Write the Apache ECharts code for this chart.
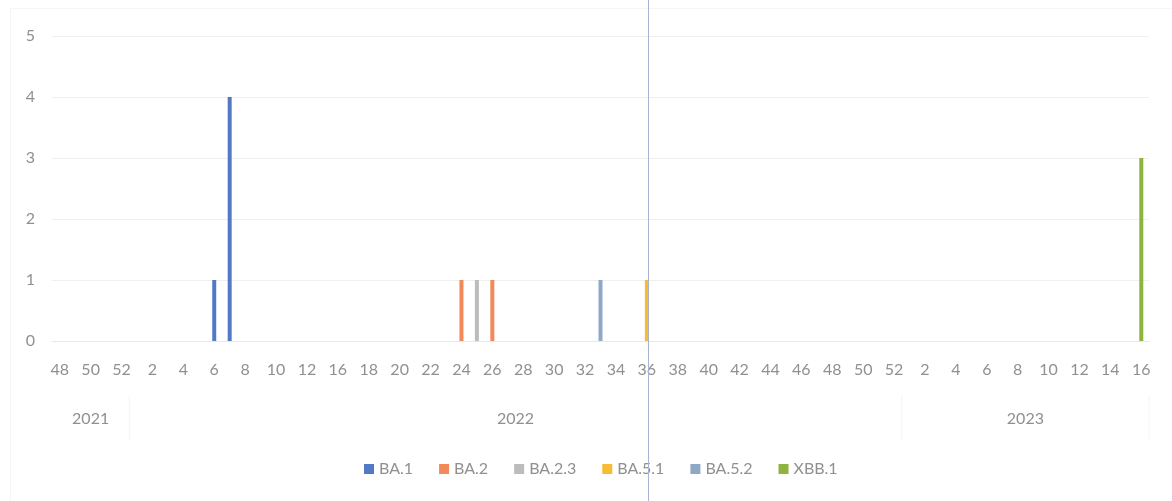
<!DOCTYPE html>
<html>
<head>
<meta charset="utf-8">
<script src="https://cdn.jsdelivr.net/npm/echarts@6/dist/echarts.min.js"></script>
<style>
  html, body { margin: 0; padding: 0; background: #ffffff; }
  #chart { width: 1172px; height: 501px; }
</style>
</head>
<body>
<div id="chart"></div>
<script>
// Calendar weeks shown on the axis, grouped by year (weeks 13-14 of 2022 are not reported)
const weeks2021 = [48, 49, 50, 51, 52];
const weeks2022 = [1, 2, 3, 4, 5, 6, 7, 8, 9, 10, 11, 12,
  15, 16, 17, 18, 19, 20, 21, 22, 23, 24, 25, 26, 27, 28, 29, 30, 31, 32, 33,
  34, 35, 36, 37, 38, 39, 40, 41, 42, 43, 44, 45, 46, 47, 48, 49, 50, 51, 52];
const weeks2023 = [1, 2, 3, 4, 5, 6, 7, 8, 9, 10, 11, 12, 13, 14, 15, 16];
const years = ['2021', '2022', '2023'];

// Number of sequenced samples per lineage: [year, week, count]
const ba1 = [['2022', 6, 1], ['2022', 7, 4]];
const ba2 = [['2022', 24, 1], ['2022', 26, 1]];
const ba23 = [['2022', 25, 1]];
const ba51 = [['2022', 36, 1]];
const ba52 = [['2022', 33, 1]];
const xbb1 = [['2023', 16, 3]];

const lineageNames = ['BA.1', 'BA.2', 'BA.2.3', 'BA.5.1', 'BA.5.2', 'XBB.1'];
const lineageColors = ['#5479c4', '#f08a5b', '#bcbcbc', '#f9bb34', '#8fa8c6', '#8db43f'];

const weekGroups = [weeks2021, weeks2022, weeks2023];
const categories = [];
weekGroups.forEach((ws, i) => ws.forEach(w => categories.push(years[i] + '-' + w)));

function toSeriesData(rows) {
  const out = categories.map(() => null);
  rows.forEach(([y, w, v]) => { out[categories.indexOf(y + '-' + w)] = v; });
  return out;
}

const lineageData = [ba1, ba2, ba23, ba51, ba52, xbb1];

const textColor = '#909090';
const fontFamily = 'Lato, "Open Sans", sans-serif';

const chart = echarts.init(document.getElementById('chart'), null, { renderer: 'canvas' });

chart.setOption({
  animation: false,
  backgroundColor: '#ffffff',
  grid: { left: 52, right: 23, top: 36, bottom: 160 },
  legend: {
    data: lineageNames,
    top: 456,
    left: 359,
    itemWidth: 10,
    itemHeight: 10,
    itemGap: 26,
    icon: 'rect',
    textStyle: { color: textColor, fontSize: 16, fontFamily: fontFamily }
  },
  xAxis: {
    type: 'category',
    data: categories,
    axisTick: { show: false },
    axisLine: { lineStyle: { color: '#e8e8e8' } },
    axisLabel: {
      interval: 1,
      margin: 21,
      color: textColor,
      fontSize: 16,
      fontFamily: fontFamily,
      formatter: v => v.split('-')[1]
    },
    splitLine: { show: false }
  },
  yAxis: {
    type: 'value',
    min: 0,
    max: 5,
    interval: 1,
    axisLine: { show: false },
    axisTick: { show: false },
    axisLabel: { margin: 17, color: textColor, fontSize: 16, fontFamily: fontFamily },
    splitLine: { lineStyle: { color: '#efefef', width: 1 } }
  },
  series: lineageNames.map((name, i) => ({
    name: name,
    type: 'bar',
    stack: 'samples',
    barWidth: 4,
    itemStyle: { color: lineageColors[i] },
    data: toSeriesData(lineageData[i])
  }))
});

// Year labels and group separators under the week labels
const px = c => chart.convertToPixel({ xAxisIndex: 0 }, c);
const step = px(categories[1]) - px(categories[0]);
const graphics = [];
let start = 0;
weekGroups.forEach((ws, i) => {
  const first = categories[start];
  const last = categories[start + ws.length - 1];
  const mid = (px(first) + px(last)) / 2;
  graphics.push({
    type: 'text',
    x: mid, y: 419,
    style: {
      text: years[i], fill: textColor, fontSize: 16, fontFamily: fontFamily,
      align: 'center', verticalAlign: 'middle'
    }
  });
  const edge = px(last) + step / 2;
  graphics.push({
    type: 'line',
    shape: { x1: edge, y1: 396, x2: edge, y2: 440 },
    style: { stroke: '#f4f4f4', lineWidth: 1 }
  });
  start += ws.length;
});
// chart-area border
graphics.push({
  type: 'rect',
  shape: { x: 10.5, y: 8.5, width: 1200, height: 600 },
  style: { fill: null, stroke: '#f5f5f5', lineWidth: 1 }
});
// thin vertical guide across the figure
graphics.push({
  type: 'line',
  shape: { x1: 648.5, y1: 0, x2: 648.5, y2: 501 },
  style: { stroke: '#aab3cf', lineWidth: 1 },
  z: 100
});
chart.setOption({ graphic: graphics });
</script>
</body>
</html>
